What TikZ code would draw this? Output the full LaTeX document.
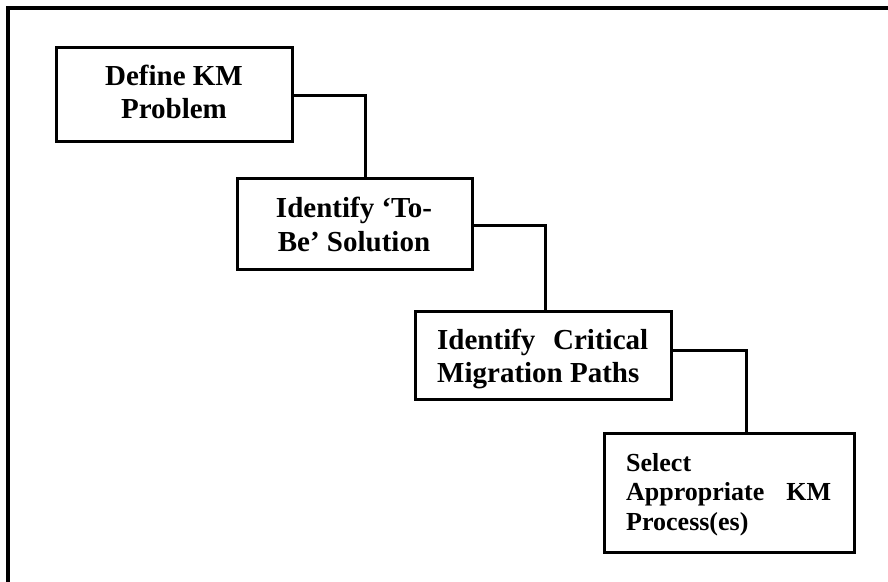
\documentclass[tikz,border=0pt]{standalone}
\usepackage{fontspec}
\setmainfont{Liberation Serif}
\begin{document}
\begin{tikzpicture}[x=1pt,y=-1pt,
  box/.style={draw, line width=3pt, inner sep=0pt},
  link/.style={draw, line width=3pt},
  frame/.style={draw, line width=4pt},
  big/.style={font=\fontsize{29}{33}\selectfont\bfseries, inner sep=0pt},
  small/.style={font=\fontsize{26}{30}\selectfont\bfseries, inner sep=0pt}]
\useasboundingbox (0,0) rectangle (888,581);
\draw[frame] (8,590) -- (8,8) -- (895,8);
% boxes
\node[box, minimum width=236pt, minimum height=94pt] (b1) at (174,94) {};
\node[box, minimum width=235pt, minimum height=91pt] (b2) at (354.5,223.5) {};
\node[box, minimum width=256pt, minimum height=88pt] (b3) at (543,355) {};
\node[box, minimum width=250pt, minimum height=119pt] (b4) at (729,492.5) {};
% connector bends
\coordinate (k1) at (365,95);
\coordinate (k2) at (545,225);
\coordinate (k3) at (746,350);
\draw[link] (b1.east |- k1) -| (b2.north -| k1);
\draw[link] (b2.east |- k2) -| (b3.north -| k2);
\draw[link] (b3.east |- k3) -| (b4.north -| k3);
% texts
\node[big, anchor=base] (t1a) at (174,85) {Define KM};
\node[big, anchor=base] (t1b) at (174,118) {Problem};
\node[big, anchor=base] (t2a) at (354,217) {Identify ‘To-};
\node[big, anchor=base] (t2b) at (354,251) {Be’ Solution};
\node[big, anchor=base west] (t3a) at (437,349) {\hbox to 211pt{Identify\hfill Critical}};
\node[big, anchor=base west] (t3b) at (437,382) {Migration Paths};
\node[small, anchor=base west] (t4a) at (626,471) {Select};
\node[small, anchor=base west] (t4b) at (626,500) {\hbox to 205pt{Appropriate\hfill KM}};
\node[small, anchor=base west] (t4c) at (626,530) {Process(es)};
\end{tikzpicture}
\end{document}
